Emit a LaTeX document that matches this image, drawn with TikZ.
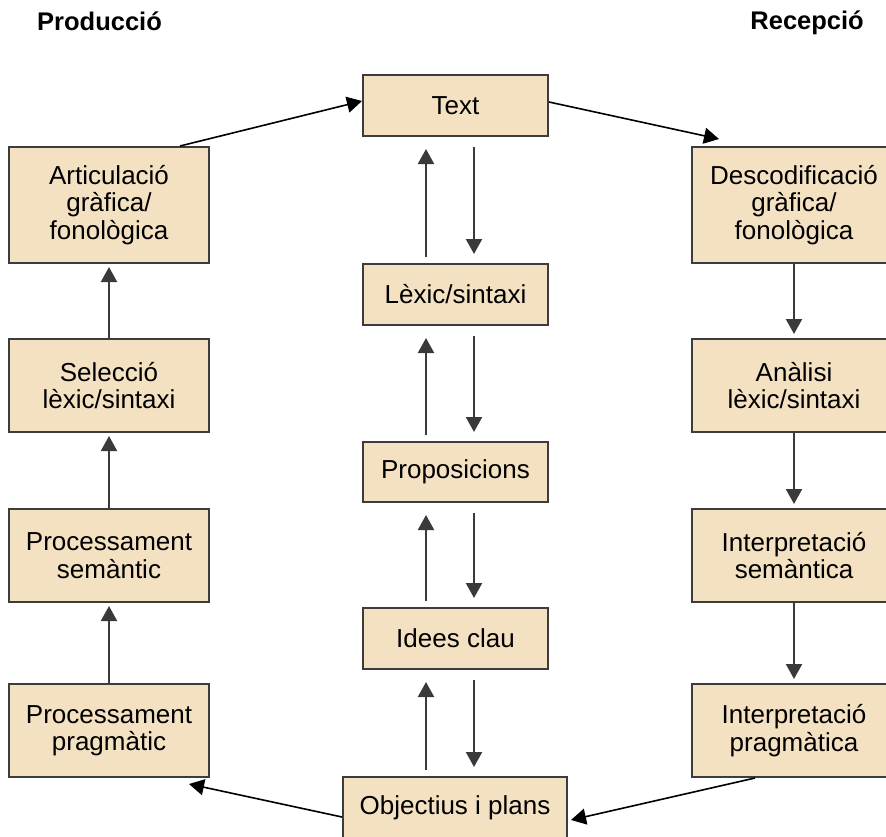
\documentclass[tikz,border=0pt]{standalone}
\usepackage{fontspec}
\setmainfont{Liberation Sans}
\usetikzlibrary{arrows.meta}
\definecolor{boxfill}{HTML}{F4E1C2}
\definecolor{boxline}{HTML}{3C3C3C}
\definecolor{arrowgray}{HTML}{3A3A3A}
\begin{document}
\begin{tikzpicture}[x=1pt,y=-1pt,
  stagebox/.style={draw=boxline,line width=2pt,fill=boxfill,align=center,
    inner sep=0pt,font=\fontsize{26}{27.5}\selectfont},
  sidebox/.style={stagebox,minimum width=200pt,minimum height=93pt},
  midbox/.style={stagebox,minimum width=185pt,minimum height=61pt},
  title/.style={font=\fontsize{25.5}{27.5}\selectfont\bfseries,inner sep=0pt},
  flow/.style={draw=arrowgray,line width=2.2pt,-{Triangle[width=16pt,length=15pt]}},
  link/.style={draw=black,line width=1.6pt,-{Triangle[width=16pt,length=15pt]}}]
\useasboundingbox (0,0) rectangle (886,836);
\clip (0,0) rectangle (886,836);

% column titles
\node[title,anchor=base west] (prodtitle) at (37,30) {Producció};
\node[title,anchor=base east] (rectitle) at (864,29) {Recepció};

% central column
\node[midbox] (ttext) at (455.5,105.5) {Text};
\node[midbox] (lex) at (455.5,294.5) {Lèxic/sintaxi};
\node[midbox,minimum height=60pt] (prop) at (455.5,472) {Proposicions};
\node[midbox] (idees) at (455.5,638.5) {Idees clau};
\node[midbox,minimum width=224pt] (obj) at (455,807.5) {Objectius i plans};

% production column
\node[sidebox,minimum height=116pt] (art) at (109,205) {Articulació\\gràfica/\\fonològica};
\node[sidebox] (sel) at (109,385.5) {Selecció\\lèxic/sintaxi};
\node[sidebox] (psem) at (109,555.5) {Processament\\semàntic};
\node[sidebox] (pprag) at (109,730.5) {Processament\\pragmàtic};

% reception column
\node[sidebox,minimum width=204pt,minimum height=116pt] (desc) at (794,205) {Descodificació\\gràfica/\\fonològica};
\node[sidebox,minimum width=204pt] (anal) at (794,385.5) {Anàlisi\\lèxic/sintaxi};
\node[sidebox,minimum width=204pt] (isem) at (794,555.5) {Interpretació\\semàntica};
\node[sidebox,minimum width=204pt] (iprag) at (794,730.5) {Interpretació\\pragmàtica};

% production: upward chain
\draw[flow,shorten >=3pt] (pprag.north) -- (psem.south);
\draw[flow,shorten >=3pt] (psem.north) -- (sel.south);
\draw[flow,shorten >=3pt] (sel.north) -- (art.south);

% reception: downward chain
\draw[flow,shorten >=4pt] (desc.south) -- (anal.north);
\draw[flow,shorten >=4pt] (anal.south) -- (isem.north);
\draw[flow,shorten >=4pt] (isem.south) -- (iprag.north);

% central column: paired up/down arrows
\foreach \lower/\upper in {lex/ttext,prop/lex,idees/prop,obj/idees}{
  \draw[flow,shorten <=6pt,shorten >=12pt]
    ([xshift=-29.5pt]\lower.north -| \upper.center) -- ([xshift=-29.5pt]\upper.south);
  \draw[flow,shorten <=10pt,shorten >=9pt]
    ([xshift=18.5pt]\upper.south) -- ([xshift=18.5pt]\lower.north -| \upper.center);
}

% outer links
\draw[link] ([xshift=71pt]art.north) -- ([yshift=4.5pt]ttext.west);
\draw[link] ([yshift=3.5pt]ttext.east) -- ([xshift=-75pt,yshift=7pt]desc.north);
\draw[link] ([xshift=-39pt]iprag.south) -- ([xshift=3pt,yshift=-12.5pt]obj.east);
\draw[link] ([yshift=-9.5pt]obj.west) -- ([xshift=-21pt,yshift=-6pt]pprag.south east);
\end{tikzpicture}
\end{document}
